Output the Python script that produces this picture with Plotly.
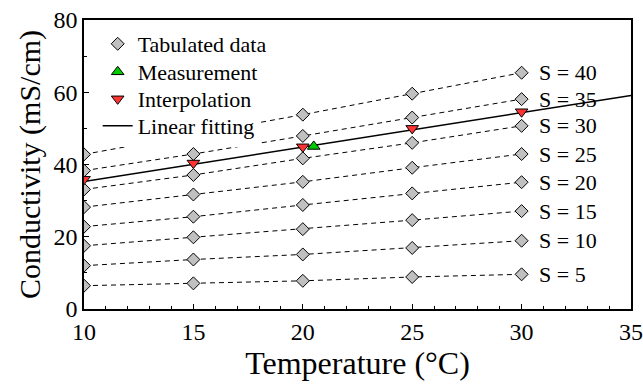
import plotly.graph_objects as go

temps = [10, 15, 20, 25, 30]
salinities = [5, 10, 15, 20, 25, 30, 35, 40]
tabulated = {
    5:  [6.45, 7.1, 7.8, 8.86, 9.6],
    10: [12.0, 13.7, 15.1, 16.9, 18.9],
    15: [17.5, 19.85, 22.1, 24.6, 27.1],
    20: [22.8, 25.55, 28.8, 32.0, 35.1],
    25: [28.2, 31.7, 35.2, 39.1, 42.9],
    30: [33.1, 37.1, 41.7, 46.0, 50.7],
    35: [38.3, 42.9, 47.9, 53.0, 58.1],
    40: [42.8, 48.2, 53.8, 59.6, 65.4],
}
interp_vals = [35.9, 40.4, 44.9, 50.0, 54.6]
meas_t = [20.5]
meas_v = [45.0]
fit_t = [10, 35]
fit_v = [35.3, 59.1]

FONT = "'Liberation Serif', 'Times New Roman', 'DejaVu Serif', serif"
diamond = dict(symbol="diamond", size=10, color="#c0c0c0",
               line=dict(color="black", width=1))
fig = go.Figure()

for s in salinities:
    fig.add_trace(go.Scatter(
        x=temps, y=tabulated[s], mode="lines+markers",
        line=dict(color="black", width=1, dash="5px,4px"),
        marker=diamond, showlegend=False,
    ))
# legend entry for tabulated data (marker only)
fig.add_trace(go.Scatter(x=[None], y=[None], mode="markers", marker=diamond,
                         name="Tabulated data", legend="legend"))

fig.add_trace(go.Scatter(
    x=fit_t, y=fit_v, mode="lines", line=dict(color="black", width=1.5),
    name="Linear fitting", legend="legend4",
))
fig.add_trace(go.Scatter(
    x=temps, y=interp_vals, mode="markers",
    marker=dict(symbol="triangle-down", size=11, color="#ff3333",
                line=dict(color="black", width=1)),
    name="Interpolation", legend="legend3",
))
fig.add_trace(go.Scatter(
    x=meas_t, y=meas_v, mode="markers",
    marker=dict(symbol="triangle-up", size=11, color="#00cc00",
                line=dict(color="black", width=1)),
    name="Measurement", legend="legend2",
))

for s in salinities:
    fig.add_annotation(x=temps[-1], y=tabulated[s][-1], text=f"S = {s}",
                       showarrow=False, xanchor="left", xshift=15,
                       font=dict(family=FONT, size=22, color="black"))

def leg(yc, bg="rgba(0,0,0,0)"):
    return dict(x=0.025, y=yc, xanchor="left", yanchor="middle",
                bgcolor=bg, borderwidth=0,
                font=dict(family=FONT, size=22), itemwidth=30)

fig.update_layout(
    width=643, height=388,
    margin=dict(l=84, r=12, t=20, b=79),
    plot_bgcolor="white", paper_bgcolor="white",
    font=dict(family=FONT, color="black"),
    legend=leg(0.917),
    legend2=leg(0.820),
    legend3=leg(0.7266),
    legend4=leg(0.6332, "white"),
)
fig.update_xaxes(
    range=[10, 35], dtick=5, tick0=10, showgrid=False, zeroline=False,
    showline=True, linecolor="black", linewidth=1.5, mirror=True,
    ticks="inside", ticklen=5, tickcolor="black", tickwidth=1,
    minor=dict(dtick=1, ticks="inside", ticklen=3, tickcolor="black", showgrid=False),
    tickfont=dict(family=FONT, size=24), automargin=False,
    title=dict(text="Temperature (°C)", font=dict(family=FONT, size=32), standoff=8),
)
fig.update_yaxes(
    range=[0, 80], dtick=20, showgrid=False, zeroline=False,
    showline=True, linecolor="black", linewidth=1.5, mirror=True,
    ticks="inside", ticklen=5, tickcolor="black", tickwidth=1,
    minor=dict(dtick=10, ticks="inside", ticklen=3, tickcolor="black", showgrid=False),
    tickfont=dict(family=FONT, size=24), automargin=False,
    title=dict(text="Conductivity (mS/cm)", font=dict(family=FONT, size=30), standoff=4),
)
fig.write_html("out.html")
